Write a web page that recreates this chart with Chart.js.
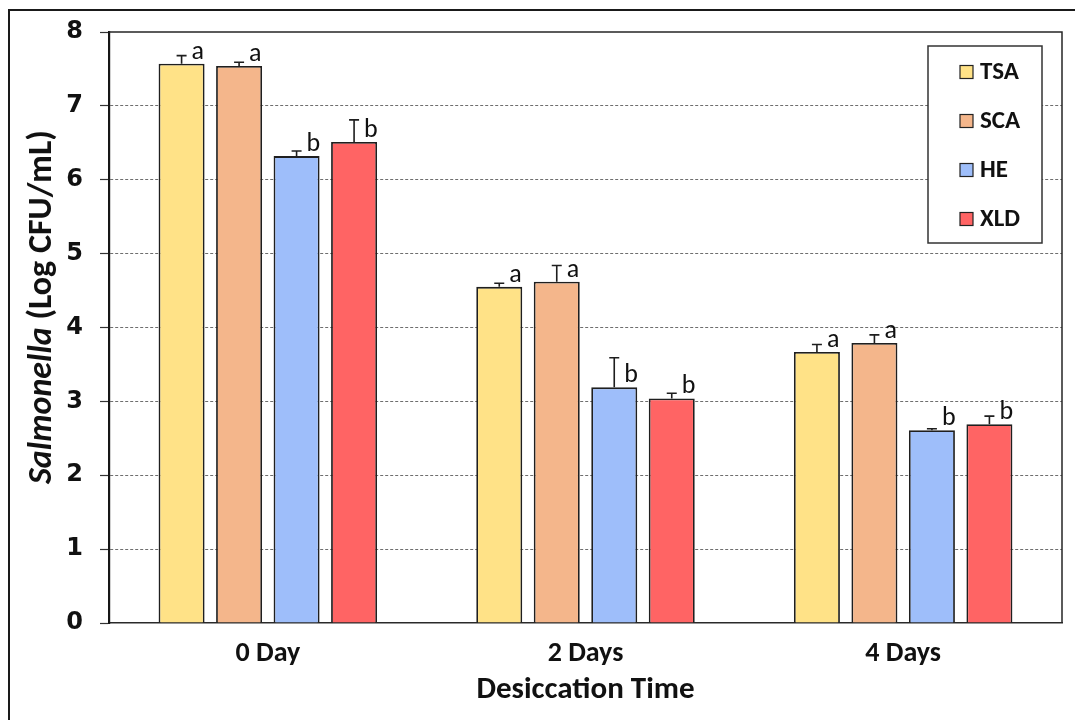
<!DOCTYPE html>
<html>
<head>
<meta charset="utf-8">
<script src="https://cdn.jsdelivr.net/npm/chart.js@4.4.1/dist/chart.umd.min.js"></script>
<style>
  html, body { margin: 0; padding: 0; background: #ffffff; }
  #wrap { width: 1075px; height: 720px; position: relative; }
</style>
</head>
<body>
<div id="wrap"><canvas id="chart" width="1075" height="720"></canvas></div>
<script>
// Desiccation time points
const categories = ['0 Day', '2 Days', '4 Days'];

// Salmonella counts (Log CFU/mL) recovered on each medium, with standard deviations
const tsaValues = [7.57, 4.55, 3.67];
const tsaErrors = [0.11, 0.05, 0.10];
const scaValues = [7.54, 4.62, 3.79];
const scaErrors = [0.05, 0.22, 0.11];
const heValues  = [6.32, 3.19, 2.61];
const heErrors  = [0.07, 0.40, 0.02];
const xldValues = [6.51, 3.04, 2.69];
const xldErrors = [0.30, 0.07, 0.11];

// Significance letters
const tsaLetters = ['a', 'a', 'a'];
const scaLetters = ['a', 'a', 'a'];
const heLetters  = ['b', 'b', 'b'];
const xldLetters = ['b', 'b', 'b'];

// Y axis ticks
const yTicks = [0, 1, 2, 3, 4, 5, 6, 7, 8];

const TEXT_FONT = 'Carlito, Lato, "Open Sans", sans-serif';
const NUM_FONT = '"DejaVu Sans", Verdana, sans-serif';

function series(label, data, errors, letters, color) {
  return {
    label, data, errors, letters,
    backgroundColor: color,
    borderColor: '#1f1f1f',
    borderWidth: 1.8,
    borderSkipped: 'bottom',
    categoryPercentage: 0.724,
    barPercentage: 0.8
  };
}

// Outer frame plus the top and right edges of the plot box
const framePlugin = {
  id: 'frame',
  beforeDraw(chart) {
    const ctx = chart.ctx;
    ctx.save();
    ctx.fillStyle = '#ffffff';
    ctx.fillRect(0, 0, chart.width, chart.height);
    ctx.strokeStyle = '#1a1a1a';
    ctx.lineWidth = 2;
    ctx.strokeRect(9, 10, chart.width + 20, chart.height + 20);
    ctx.restore();
  },
  beforeDatasetsDraw(chart) {
    const { ctx, chartArea: a } = chart;
    ctx.save();
    ctx.strokeStyle = '#262626';
    ctx.lineWidth = 1.5;
    ctx.beginPath();
    ctx.moveTo(a.left, a.top);
    ctx.lineTo(a.right, a.top);
    ctx.lineTo(a.right, a.bottom);
    ctx.stroke();
    ctx.restore();
  }
};

// Upward error bars and significance letters above each bar
const errorPlugin = {
  id: 'errorBars',
  afterDatasetsDraw(chart) {
    const ctx = chart.ctx;
    const yScale = chart.scales.y;
    ctx.save();
    chart.data.datasets.forEach((ds, di) => {
      const meta = chart.getDatasetMeta(di);
      meta.data.forEach((bar, i) => {
        const top = yScale.getPixelForValue(ds.data[i] + ds.errors[i]);
        ctx.strokeStyle = '#1e1e1e';
        ctx.lineWidth = 1.6;
        ctx.beginPath();
        ctx.moveTo(bar.x, bar.y);
        ctx.lineTo(bar.x, top);
        ctx.moveTo(bar.x - 5, top);
        ctx.lineTo(bar.x + 5, top);
        ctx.stroke();

        ctx.fillStyle = '#111111';
        ctx.font = '26px ' + TEXT_FONT;
        ctx.textAlign = 'left';
        ctx.textBaseline = 'alphabetic';
        ctx.fillText(ds.letters[i], bar.x + 10, bar.y - 5);
      });
    });
    ctx.restore();
  }
};

// Y axis title with italic genus name
const yTitlePlugin = {
  id: 'yTitle',
  afterDraw(chart) {
    const ctx = chart.ctx;
    const italicPart = 'Salmonella';
    const rest = ' (Log CFU/mL)';
    const fItalic = 'italic bold 34px ' + TEXT_FONT;
    const fBold = 'bold 34px ' + TEXT_FONT;
    ctx.save();
    ctx.font = fItalic;
    const w1 = ctx.measureText(italicPart).width;
    ctx.font = fBold;
    const w2 = ctx.measureText(rest).width;
    const total = w1 + w2;
    ctx.translate(42, 307);
    ctx.rotate(-Math.PI / 2);
    ctx.fillStyle = '#111111';
    ctx.textBaseline = 'middle';
    ctx.textAlign = 'left';
    ctx.font = fItalic;
    ctx.fillText(italicPart, -total / 2, 0);
    ctx.font = fBold;
    ctx.fillText(rest, -total / 2 + w1, 0);
    ctx.restore();
  }
};

// Boxed legend in the upper-right corner of the plot
const legendBoxPlugin = {
  id: 'legendBox',
  afterDraw(chart) {
    const ctx = chart.ctx;
    const x0 = 928, y0 = 46, w = 114, h = 197;
    ctx.save();
    ctx.fillStyle = '#ffffff';
    ctx.fillRect(x0, y0, w, h);
    ctx.strokeStyle = '#333333';
    ctx.lineWidth = 1.5;
    ctx.strokeRect(x0, y0, w, h);
    chart.data.datasets.forEach((ds, i) => {
      const cy = 72 + i * 49;
      ctx.fillStyle = ds.backgroundColor;
      ctx.fillRect(960, cy - 6.5, 13, 13);
      ctx.strokeStyle = '#222222';
      ctx.lineWidth = 1.2;
      ctx.strokeRect(960, cy - 6.5, 13, 13);
      ctx.fillStyle = '#111111';
      ctx.font = 'bold 25px ' + TEXT_FONT;
      ctx.textAlign = 'left';
      ctx.textBaseline = 'middle';
      ctx.fillText(ds.label, 980, cy + 1);
    });
    ctx.restore();
  }
};

new Chart(document.getElementById('chart'), {
  type: 'bar',
  data: {
    labels: categories,
    datasets: [
      series('TSA', tsaValues, tsaErrors, tsaLetters, '#FFE287'),
      series('SCA', scaValues, scaErrors, scaLetters, '#F4B68B'),
      series('HE',  heValues,  heErrors,  heLetters,  '#9EBEFA'),
      series('XLD', xldValues, xldErrors, xldLetters, '#FF6464')
    ]
  },
  options: {
    responsive: false,
    animation: false,
    layout: { padding: { left: 0, top: 32, right: 13, bottom: 0 } },
    plugins: {
      legend: { display: false },
      title: { display: false },
      tooltip: { enabled: false }
    },
    scales: {
      x: {
        grid: { display: false, drawTicks: false },
        border: { display: true, color: '#2a2a2a', width: 1.5 },
        ticks: {
          color: '#111111',
          padding: 14,
          font: { family: TEXT_FONT, size: 28, weight: 'bold', lineHeight: 1.2 }
        },
        title: {
          display: true,
          text: 'Desiccation Time',
          color: '#111111',
          padding: { top: 0, bottom: 14 },
          font: { family: TEXT_FONT, size: 31, weight: 'bold', lineHeight: 1 }
        },
        afterFit(scale) { scale.height = 97; }
      },
      y: {
        min: 0,
        max: 8,
        afterBuildTicks(scale) { scale.ticks = yTicks.map(v => ({ value: v })); },
        grid: {
          color: (c) => (c.tick && (c.tick.value === 0 || c.tick.value === 8)) ? 'rgba(0,0,0,0)' : '#6e6e6e',
          lineWidth: 1,
          drawTicks: true,
          tickLength: 9,
          tickColor: '#333333',
          tickWidth: 1.2,
          tickBorderDash: []
        },
        border: { display: true, color: '#161616', width: 2.2, dash: [3, 2] },
        ticks: {
          color: '#111111',
          padding: 17,
          font: { family: NUM_FONT, size: 24, weight: 'bold' }
        },
        afterFit(scale) { scale.width = 109; }
      }
    }
  },
  plugins: [framePlugin, errorPlugin, yTitlePlugin, legendBoxPlugin]
});
</script>
</body>
</html>
